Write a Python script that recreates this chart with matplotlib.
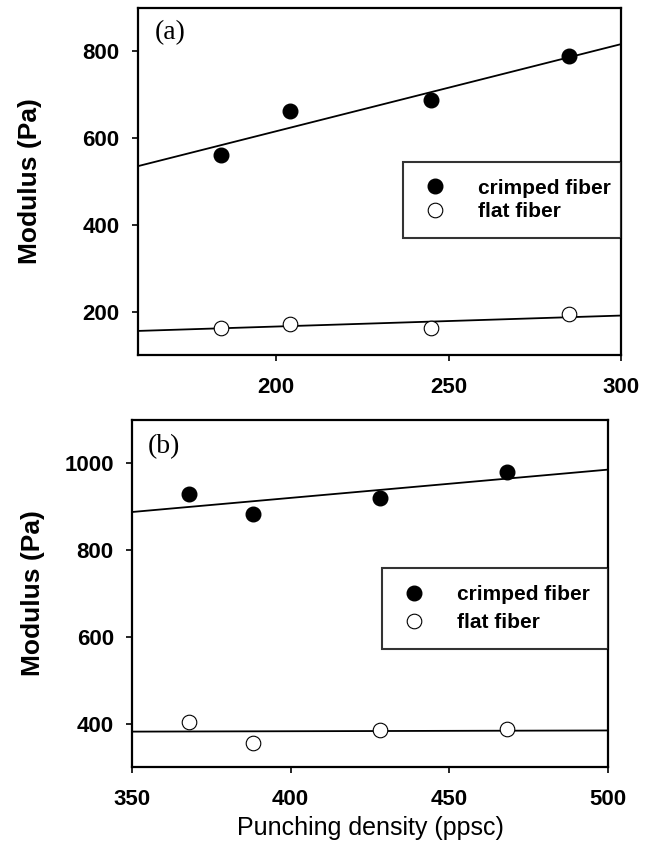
import numpy as np
import matplotlib
matplotlib.use('Agg')
import matplotlib.pyplot as plt

plt.rcParams['font.family'] = 'Liberation Sans'

# panel (a)
xa = [184, 204, 245, 285]
crimped_a = [560, 662, 688, 790]
flat_a = [163, 172, 162, 195]

# panel (b)
xb = [368, 388, 428, 468]
crimped_b = [930, 883, 921, 981]
flat_b = [403, 355, 385, 388]

fig = plt.figure(figsize=(6.56, 8.5), dpi=100)
ax1 = fig.add_axes([0.210, 0.5824, 0.737, 0.4082])
ax2 = fig.add_axes([0.201, 0.0976, 0.726, 0.4084])


def panel(ax, x, yc, yf, xlim, ylim, xticks, yticks, tag, tagpos, leg_box, lsp, ylpad):
    xx = np.array(xlim, dtype=float)
    for y in (yc, yf):
        k, b = np.polyfit(x, y, 1)
        ax.plot(xx, k * xx + b, color='black', lw=1.3, zorder=2)
    ax.plot(x, yc, 'o', ms=10.5, mfc='black', mec='black', label='crimped fiber', zorder=3)
    ax.plot(x, yf, 'o', ms=10.5, mfc='white', mec='black', mew=0.8, label='flat fiber', zorder=3)
    ax.set_xlim(*xlim)
    ax.set_ylim(*ylim)
    ax.set_xticks(xticks)
    ax.set_yticks(yticks)
    ax.tick_params(direction='out', length=4, width=1.2, labelsize=16)
    ax.tick_params(axis='x', pad=12)
    ax.tick_params(axis='y', pad=9)
    for lab in ax.get_xticklabels() + ax.get_yticklabels():
        lab.set_fontweight('bold')
    for s in ax.spines.values():
        s.set_linewidth(1.6)
    ax.set_ylabel('Modulus (Pa)', fontsize=19, fontweight='bold', labelpad=ylpad)
    ax.text(tagpos[0], tagpos[1], tag, transform=ax.transAxes, family='Liberation Serif',
            fontsize=20, va='center', ha='left')
    leg = ax.legend(loc='upper left', bbox_to_anchor=leg_box, mode='expand',
                    borderaxespad=0, prop={'size': 15, 'weight': 'bold'},
                    frameon=True, fancybox=False, edgecolor='black',
                    handletextpad=1.3, borderpad=0.8, labelspacing=lsp,
                    handlelength=1.5)
    leg.get_frame().set_linewidth(1.5)


panel(ax1, xa, crimped_a, flat_a, (160, 300), (100, 900), [200, 250, 300],
      [200, 400, 600, 800], '(a)', (0.035, 0.928),
      (0.549, 0.329, 0.451, 0.227), 0.2, 29)
panel(ax2, xb, crimped_b, flat_b, (350, 500), (300, 1100), [350, 400, 450, 500],
      [400, 600, 800, 1000], '(b)', (0.034, 0.922),
      (0.525, 0.337, 0.475, 0.236), 0.45, 14)
ax2.set_xlabel('Punching density (ppsc)', fontsize=18, labelpad=4)

fig.savefig('out.png', dpi=100)
